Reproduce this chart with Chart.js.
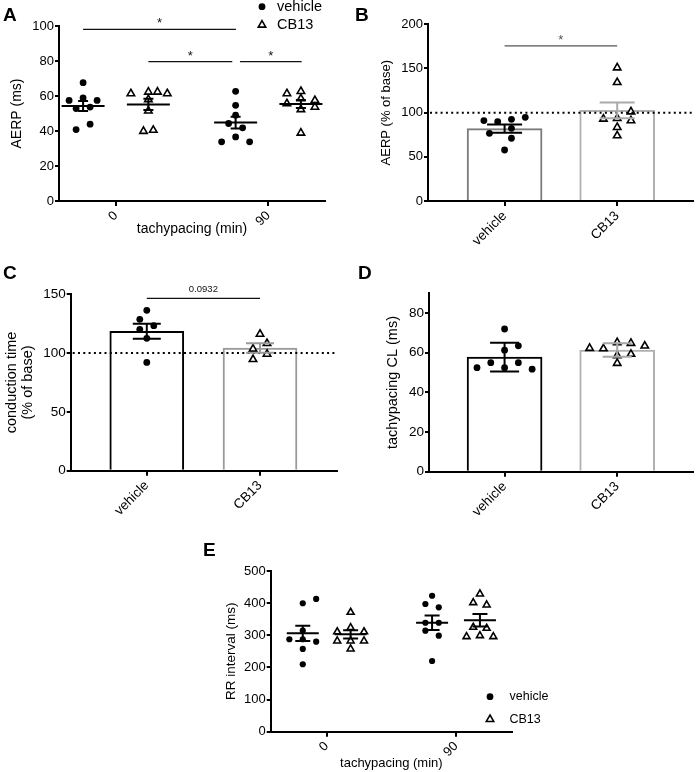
<!DOCTYPE html>
<html><head><meta charset="utf-8">
<script src="https://cdn.jsdelivr.net/npm/chart.js@4.4.1/dist/chart.umd.min.js"></script>
<style>
html,body{margin:0;padding:0;background:#fff;}
#fig{position:relative;width:699px;height:772px;overflow:hidden;}
canvas{position:absolute;}
.lbl{position:absolute;font:bold 19px "Liberation Sans",Arial,sans-serif;line-height:19px;color:#000;z-index:5;}
</style></head><body>
<div id="fig">
<canvas id="cA" width="345" height="250" style="left:0px;top:0px"></canvas>
<canvas id="cB" width="349" height="262" style="left:350px;top:0px"></canvas>
<canvas id="cC" width="345" height="262" style="left:0px;top:265px"></canvas>
<canvas id="cD" width="349" height="262" style="left:350px;top:265px"></canvas>
<canvas id="cE" width="370" height="232" style="left:190px;top:540px"></canvas>
<div class="lbl" style="left:3px;top:4.6px">A</div>
<div class="lbl" style="left:355px;top:4.6px">B</div>
<div class="lbl" style="left:3px;top:263px">C</div>
<div class="lbl" style="left:358px;top:263px">D</div>
<div class="lbl" style="left:203px;top:540px">E</div>
</div>
<script>
// ---------------- data ----------------
const timeLabels = ['0', '90'];
const groupLabels = ['vehicle', 'CB13'];
const legendLabels = ['vehicle', 'CB13'];

// A: AERP (ms) — values and horizontal jitter (in marker steps)
const aerpVeh0 = [67.6, 57.5, 58.9, 57.5, 52.8, 53.7, 40.8, 43.9];
const aerpVeh0Jit = [0, -2, 0, 2, -1, 1, -1, 1];
const aerpCb0 = [61.4, 62.3, 62.3, 61.4, 58.0, 51.5, 39.9, 40.5];
const aerpCb0Jit = [-2.5, 0, 1.3, 2.7, 0, 0, -0.7, 0.7];
const aerpVeh90 = [62.7, 54.7, 49.0, 44.3, 41.8, 36.6, 33.8, 33.8];
const aerpVeh90Jit = [0, 0, 0, -1, 1, 0, -2, 2];
const aerpCb90 = [61.4, 62.7, 55.7, 58.5, 57.5, 52.3, 53.7, 38.9];
const aerpCb90Jit = [-2, 0, -2, 0, 2, 0, 2, 0];
const aerpMeans = [54.3, 55.2, 44.8, 55.4];
const aerpSem = [2.9, 3.2, 3.4, 2.3];

// B: AERP (% of base)
const aerpPctVeh = [91.0, 89.8, 92.5, 94.7, 76.6, 82.3, 71.0, 57.7];
const aerpPctVehJit = [-3, -1, 1, 3, -2.2, 1, 1, 0];
const aerpPctCb = [150.9, 134.3, 92.8, 93.6, 101.0, 91.0, 83.4, 74.0];
const aerpPctCbJit = [0, 0, -2, 0, 2, 2, 0, 0];
const aerpPctMeans = [82.0, 102.6];
const aerpPctSem = [4.7, 9.0];

// C: conduction time (% of base)
const condVeh = [136.4, 128.7, 123.3, 120.2, 112.6, 92.1];
const condVehJit = [0, -1, 1, -1, 0, 0];
const condCb = [116.2, 108.3, 103.5, 99.2, 94.7];
const condCbJit = [0, 1, -1, 1, -1];
const condMeans = [118.6, 104.3];
const condSem = [6.3, 4.0];

// D: tachypacing CL (ms)
const cycVeh = [72.0, 63.5, 61.3, 55.0, 55.0, 52.5, 52.5, 51.7];
const cycVehJit = [0, 2, 0, -2, 2, -4, 0, 4];
const cycCb = [62.3, 62.1, 65.2, 64.8, 63.5, 58.6, 59.3, 54.7];
const cycCbJit = [-4, -2, 0, 2, 4, 0, 2, 0];
const cycMeans = [57.8, 61.4];
const cycSd = [7.3, 3.4];

// E: RR interval (ms)
const rrVeh0 = [399.6, 413.0, 287.6, 287.6, 314.3, 280.0, 257.4, 209.8];
const rrVeh0Jit = [0, 2, -2, 0, 0, 2, 0, 0];
const rrCb0 = [371.6, 323.7, 311.0, 311.0, 282.3, 282.3, 282.3, 257.4];
const rrCb0Jit = [0, 0, -2, 2, -2, 2, 0, 0];
const rrVeh90 = [423.0, 397.4, 387.0, 339.0, 339.0, 314.3, 298.8, 220.0];
const rrVeh90Jit = [0, -1, 1, -1, 1, -1, 1, 0];
const rrCb90 = [428.6, 401.5, 394.3, 325.0, 321.8, 295.7, 298.8, 295.7];
const rrCb90Jit = [0, -1, 1, -1, 1, -2, 0, 2];
const rrMeans = [306, 303, 339, 347];
const rrSem = [24, 13, 22.5, 19.5];

// ---------------- styling / helpers ----------------
const FONT = '"Liberation Sans", Arial, Helvetica, sans-serif';
Chart.defaults.font.family = FONT;
Chart.defaults.color = '#000';

const VEH = {type:'scatter', pointStyle:'circle', pointRadius:3.4, pointHoverRadius:3.4, pointBackgroundColor:'#000', pointBorderColor:'#000', pointBorderWidth:0, showLine:false, order:0};
const CB = {type:'scatter', pointStyle:'triangle', pointRadius:4.3, pointHoverRadius:4.3, pointBackgroundColor:'#fff', pointBorderColor:'#000', pointBorderWidth:1.6, showLine:false, order:0};

function pts(vals, jit, center, step, style, extra) {
  return Object.assign({data: vals.map((v, i) => ({x: center + jit[i] * step, y: v}))}, style, extra || {});
}

function xScale(min, max, labels, fontSize, height, title) {
  const sc = {
    type: 'linear', min: min, max: max, offset: false,
    afterBuildTicks: s => { s.ticks = labels.map((_, i) => ({value: i})); },
    afterFit: s => { s.height = height; s.paddingLeft = 0; s.paddingRight = 0; },
    ticks: {autoSkip: false, minRotation: 45, maxRotation: 45, padding: 2, color: '#000',
            font: {family: FONT, size: fontSize}, callback: v => labels[v]},
    grid: {display: true, offset: false, drawOnChartArea: false, drawTicks: true, tickLength: 5, tickWidth: 2, color: '#000', lineWidth: 2},
    border: {display: true, color: '#000', width: 2}
  };
  if (title) sc.title = {display: true, text: title.text, color: '#000', font: {family: FONT, size: title.size}, padding: {top: 0, bottom: title.pad}};
  return sc;
}

function yScale(max, step, fontSize, width, title) {
  return {
    type: 'linear', min: 0, max: max,
    afterFit: s => { s.width = width; },
    ticks: {stepSize: step, includeBounds: false, padding: 1, color: '#000', font: {family: FONT, size: fontSize}},
    grid: {display: true, drawOnChartArea: false, drawTicks: true, tickLength: 4, tickWidth: 2, color: '#000', lineWidth: 2},
    border: {display: true, color: '#000', width: 2},
    title: {display: true, text: title.text, color: '#000', font: {family: FONT, size: title.size, lineHeight: title.lh || 1.2}, padding: {top: title.pad, bottom: 0}}
  };
}

const overlay = {
  id: 'overlay',
  afterDatasetsDraw(chart, args, o) {
    const {ctx, chartArea: ca} = chart;
    const xs = chart.scales.x, ys = chart.scales.y;
    ctx.save();
    if (o.ref) {
      const py = ys.getPixelForValue(o.ref.value);
      ctx.beginPath();
      ctx.setLineDash(o.ref.dash);
      ctx.lineWidth = o.ref.width;
      ctx.strokeStyle = o.ref.color;
      ctx.moveTo(ca.left + 2, py); ctx.lineTo(ca.right, py);
      ctx.stroke();
      ctx.setLineDash([]);
    }
    (o.summaries || []).forEach(s => {
      const cx = xs.getPixelForValue(s.x);
      const pm = ys.getPixelForValue(s.mean);
      const ph = ys.getPixelForValue(s.mean + s.err);
      const pl = ys.getPixelForValue(s.mean - s.err);
      ctx.strokeStyle = s.color; ctx.lineWidth = s.lw || 2;
      ctx.beginPath();
      if (s.width) { ctx.moveTo(cx - s.width / 2, pm); ctx.lineTo(cx + s.width / 2, pm); }
      ctx.moveTo(cx, ph); ctx.lineTo(cx, pl);
      ctx.moveTo(cx - s.cap / 2, ph); ctx.lineTo(cx + s.cap / 2, ph);
      ctx.moveTo(cx - s.cap / 2, pl); ctx.lineTo(cx + s.cap / 2, pl);
      ctx.stroke();
    });
    (o.brackets || []).forEach(b => {
      const x1 = xs.getPixelForValue(b.x1), x2 = xs.getPixelForValue(b.x2), py = ys.getPixelForValue(b.y);
      ctx.strokeStyle = b.color; ctx.lineWidth = b.lw;
      ctx.beginPath(); ctx.moveTo(x1, py); ctx.lineTo(x2, py); ctx.stroke();
      ctx.fillStyle = b.color; ctx.font = b.font;
      ctx.textAlign = 'center'; ctx.textBaseline = 'alphabetic';
      ctx.fillText(b.text, (x1 + x2) / 2, py - b.gap);
    });
    if (o.legend) {
      const L = o.legend;
      L.items.forEach((it, i) => {
        const y = L.y + i * L.dy;
        const st = it.style === 'circle' ? VEH : CB;
        ctx.fillStyle = st.pointBackgroundColor;
        ctx.strokeStyle = st.pointBorderColor;
        ctx.lineWidth = st.pointBorderWidth;
        Chart.helpers.drawPoint(ctx, {pointStyle: st.pointStyle, radius: st.pointRadius, rotation: 0, borderWidth: st.pointBorderWidth}, L.x, y);
        ctx.fillStyle = '#000';
        ctx.font = L.font;
        ctx.textAlign = 'left'; ctx.textBaseline = 'middle';
        ctx.fillText(it.label, L.textX, y);
      });
    }
    ctx.restore();
  }
};

function baseOptions(pad, scales, ov) {
  return {
    responsive: false, animation: false, events: [],
    layout: {padding: pad},
    plugins: {legend: {display: false}, tooltip: {enabled: false}, overlay: ov},
    scales: scales
  };
}

// ---------------- Panel A ----------------
const OFF_A = 0.214, STEP_A = 0.0459;
const centersA = [-OFF_A, OFF_A, 1 - OFF_A, 1 + OFF_A];
new Chart(document.getElementById('cA'), {
  type: 'scatter',
  data: {datasets: [
    pts(aerpVeh0, aerpVeh0Jit, centersA[0], STEP_A, VEH),
    pts(aerpCb0, aerpCb0Jit, centersA[1], STEP_A, CB),
    pts(aerpVeh90, aerpVeh90Jit, centersA[2], STEP_A, VEH),
    pts(aerpCb90, aerpCb90Jit, centersA[3], STEP_A, CB)
  ]},
  options: baseOptions({left: 0, top: 26, right: 20, bottom: 0}, {
    x: xScale(-0.372, 1.372, timeLabels, 13, 49, {text: 'tachypacing (min)', size: 14, pad: 12.6}),
    y: yScale(100, 20, 13, 59, {text: 'AERP (ms)', size: 14, pad: 8.6})
  }, {
    summaries: aerpMeans.map((m, i) => ({x: centersA[i], mean: m, err: aerpSem[i], width: 43, cap: 10, color: '#000'})),
    brackets: [
      {x1: centersA[0], x2: 0.788, y: 98.1, text: '*', font: '13px ' + FONT, color: '#111', lw: 1.2, gap: 2},
      {x1: centersA[1], x2: 0.764, y: 79.6, text: '*', font: '13px ' + FONT, color: '#111', lw: 1.2, gap: 2},
      {x1: 0.815, x2: 1.219, y: 79.6, text: '*', font: '13px ' + FONT, color: '#111', lw: 1.2, gap: 2}
    ],
    legend: {x: 262, y: 6.7, dy: 18.3, textX: 277, font: '14.5px ' + FONT,
             items: [{style: 'circle', label: legendLabels[0]}, {style: 'triangle', label: legendLabels[1]}]}
  }),
  plugins: [overlay]
});

// ---------------- Panel B ----------------
const STEP_B = 0.0612;
new Chart(document.getElementById('cB'), {
  type: 'scatter',
  data: {datasets: [
    pts(aerpPctVeh, aerpPctVehJit, 0, STEP_B, VEH),
    pts(aerpPctCb, aerpPctCbJit, 1, STEP_B, CB),
    {type: 'bar', data: aerpPctMeans.map((m, i) => ({x: i, y: m})), backgroundColor: '#fff',
     borderColor: ['#7a7a7a', '#b0b0b0'], borderWidth: 2, barThickness: 75, order: 10}
  ]},
  options: baseOptions({left: 0, top: 24.3, right: 2, bottom: 0}, {
    x: xScale(-0.68, 1.674, groupLabels, 13.5, 61, null),
    y: yScale(200, 50, 13, 78, {text: 'AERP (% of base)', size: 13, pad: 28.9})
  }, {
    ref: {value: 100, dash: [2, 3.3], width: 2, color: '#000'},
    summaries: aerpPctMeans.map((m, i) => ({x: i, mean: m, err: aerpPctSem[i], width: 0, cap: 35, color: i ? '#aaa' : '#000'})),
    brackets: [{x1: 0, x2: 1, y: 175.5, text: '*', font: '13px ' + FONT, color: '#555', lw: 1.3, gap: 2}]
  }),
  plugins: [overlay]
});

// ---------------- Panel C ----------------
const STEP_C = 0.0618;
new Chart(document.getElementById('cC'), {
  type: 'scatter',
  data: {datasets: [
    pts(condVeh, condVehJit, 0, STEP_C, VEH),
    pts(condCb, condCbJit, 1, STEP_C, CB),
    {type: 'bar', data: condMeans.map((m, i) => ({x: i, y: m})), backgroundColor: '#fff',
     borderColor: ['#000', '#9a9a9a'], borderWidth: 2, barThickness: 74, order: 10}
  ]},
  options: baseOptions({left: 0, top: 29.3, right: 8, bottom: 0}, {
    x: xScale(-0.672, 1.68, groupLabels, 13.5, 56.3, null),
    y: yScale(150, 50, 13.5, 70.7, {text: ['conduction time', '(% of base)'], size: 14.5, lh: 1.15, pad: 3.4})
  }, {
    ref: {value: 100, dash: [2, 3.3], width: 2, color: '#000'},
    summaries: condMeans.map((m, i) => ({x: i, mean: m, err: condSem[i], width: 0, cap: 28, color: i ? '#999' : '#000'})),
    brackets: [{x1: 0, x2: 1, y: 146.6, text: '0.0932', font: '9.5px ' + FONT, color: '#111', lw: 1.2, gap: 6}]
  }),
  plugins: [overlay]
});

// ---------------- Panel D ----------------
const STEP_D = 0.0612;
new Chart(document.getElementById('cD'), {
  type: 'scatter',
  data: {datasets: [
    pts(cycVeh, cycVehJit, 0, STEP_D, VEH),
    pts(cycCb, cycCbJit, 1, STEP_D, CB),
    {type: 'bar', data: cycMeans.map((m, i) => ({x: i, y: m})), backgroundColor: '#fff',
     borderColor: ['#000', '#b0b0b0'], borderWidth: 2, barThickness: 75, order: 10}
  ]},
  options: baseOptions({left: 0, top: 28.3, right: 2, bottom: 0}, {
    x: xScale(-0.671, 1.674, groupLabels, 13.5, 55.3, null),
    y: yScale(90, 20, 13.5, 79, {text: 'tachypacing CL (ms)', size: 14.5, pad: 34.6})
  }, {
    summaries: cycMeans.map((m, i) => ({x: i, mean: m, err: cycSd[i], width: 0, cap: 29, color: i ? '#a8a8a8' : '#000'}))
  }),
  plugins: [overlay]
});

// ---------------- Panel E ----------------
const OFF_E = 0.185, STEP_E = 0.0518;
const centersE = [-OFF_E, OFF_E, 1 - OFF_E, 1 + OFF_E];
const VEH_E = Object.assign({}, VEH, {pointRadius: 3.1, pointHoverRadius: 3.1});
const CB_E = Object.assign({}, CB, {pointRadius: 4.0, pointHoverRadius: 4.0});
new Chart(document.getElementById('cE'), {
  type: 'scatter',
  data: {datasets: [
    pts(rrVeh0, rrVeh0Jit, centersE[0], STEP_E, VEH_E),
    pts(rrCb0, rrCb0Jit, centersE[1], STEP_E, CB_E),
    pts(rrVeh90, rrVeh90Jit, centersE[2], STEP_E, VEH_E),
    pts(rrCb90, rrCb90Jit, centersE[3], STEP_E, CB_E)
  ]},
  options: baseOptions({left: 0, top: 31, right: 48, bottom: 0}, {
    x: xScale(-0.433, 1.433, timeLabels, 13, 40.3, {text: 'tachypacing (min)', size: 13, pad: 0.9}),
    y: yScale(500, 100, 13, 80.7, {text: 'RR interval (ms)', size: 13.5, pad: 33.6})
  }, {
    summaries: rrMeans.map((m, i) => ({x: centersE[i], mean: m, err: rrSem[i], width: 32, cap: 15, color: '#000'})),
    legend: {x: 300, y: 156.7, dy: 22.6, textX: 319.5, font: '12.5px ' + FONT,
             items: [{style: 'circle', label: legendLabels[0]}, {style: 'triangle', label: legendLabels[1]}]}
  }),
  plugins: [overlay]
});
</script>
</body></html>
